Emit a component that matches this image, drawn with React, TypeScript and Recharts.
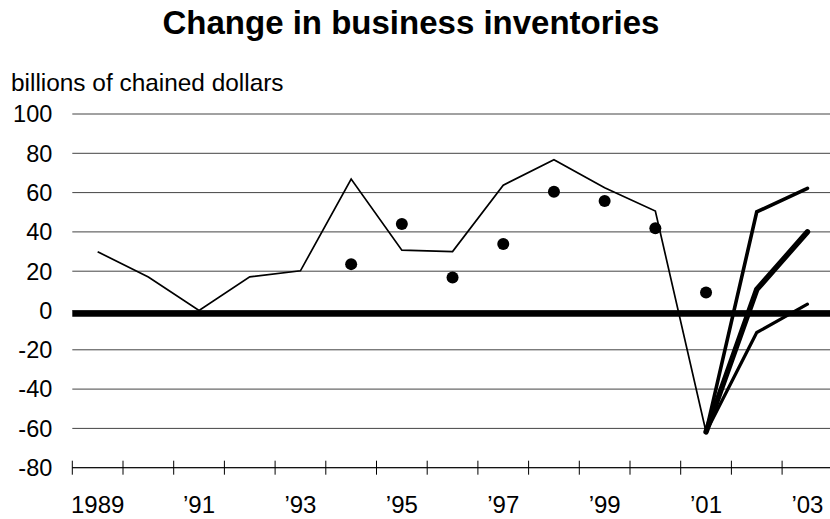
import React from "react";
import {
  ComposedChart,
  Line,
  Scatter,
  XAxis,
  YAxis,
  CartesianGrid,
  ReferenceArea,
} from "recharts";

const years = [1989, 1990, 1991, 1992, 1993, 1994, 1995, 1996, 1997, 1998, 1999, 2000, 2001, 2002, 2003];
const actual = [29.9, 17, 0, 17.1, 20.2, 66.9, 30.7, 30, 63.8, 76.7, 62.5, 50.6, -61.8, null, null];
const forecastHigh = [null, null, null, null, null, null, null, null, null, null, null, null, -61.8, 50.2, 62.2];
const forecastMid = [null, null, null, null, null, null, null, null, null, null, null, null, -61.8, 10.7, 40];
const forecastLow = [null, null, null, null, null, null, null, null, null, null, null, null, -61.8, -11.2, 3.2];

const surveyYears = [1994, 1995, 1996, 1997, 1998, 1999, 2000, 2001];
const surveyValues = [23.6, 44, 16.8, 33.8, 60.4, 55.7, 41.8, 9.2];

const yTicks = [-80, -60, -40, -20, 0, 20, 40, 60, 80, 100];
const labelYears = [1989, 1991, 1993, 1995, 1997, 1999, 2001, 2003];
const labelTexts = ["1989", "\u201991", "\u201993", "\u201995", "\u201997", "\u201999", "\u201901", "\u201903"];

const title = "Change in business inventories";
const unitLabel = "billions of chained dollars";

const data = years.map((year, i) => ({
  year,
  actual: actual[i],
  high: forecastHigh[i],
  mid: forecastMid[i],
  low: forecastLow[i],
}));

const surveyData = surveyYears.map((year, i) => ({ year, survey: surveyValues[i] }));

const boundaryTicks = [years[0] - 0.5, ...years.map((y) => y + 0.5)];
const xTicks = [...boundaryTicks, ...labelYears].sort((a, b) => a - b);

const FONT = "'Liberation Sans', Arial, sans-serif";

const XTick = (props: any) => {
  const { x, y, payload } = props;
  const v = payload.value as number;
  if (v % 1 !== 0) {
    return <line x1={x} x2={x} y1={y - 7} y2={y + 7} stroke="#000" strokeWidth={1} />;
  }
  const idx = labelYears.indexOf(v);
  if (idx < 0) return null;
  return (
    <text x={x} y={y + 45.5} textAnchor="middle" fontFamily={FONT} fontSize={24} fill="#000">
      {labelTexts[idx]}
    </text>
  );
};

export default function App() {
  return (
    <div
      style={{
        position: "fixed",
        left: 0,
        top: 0,
        width: 830,
        height: 519,
        overflow: "hidden",
        background: "#fff",
      }}
    >
      <ComposedChart
        width={843}
        height={519}
        data={data}
        margin={{ top: 114, right: 10.2, bottom: 11.3, left: 8.3 }}
      >
        <CartesianGrid horizontal={true} vertical={false} stroke="#444" strokeWidth={1} />
        <XAxis
          dataKey="year"
          type="number"
          domain={[years[0] - 0.5, years[years.length - 1] + 0.5]}
          ticks={xTicks}
          interval={0}
          allowDataOverflow
          tick={<XTick />}
          tickLine={false}
          tickSize={0}
          tickMargin={0}
          axisLine={{ stroke: "#000", strokeWidth: 1 }}
          height={40}
        />
        <YAxis
          type="number"
          domain={[-80, 100]}
          ticks={yTicks}
          interval={0}
          allowDataOverflow
          axisLine={false}
          tickLine={false}
          tickSize={0}
          tickMargin={20}
          width={64}
          tick={{ fontFamily: FONT, fontSize: 23.5, fill: "#000" }}
        />
        <ReferenceArea y1={-3.2} y2={0} fill="#000" fillOpacity={1} stroke="none" ifOverflow="visible" />
        <Line
          dataKey="actual"
          stroke="#000"
          strokeWidth={1.7}
          dot={false}
          isAnimationActive={false}
          connectNulls={false}
        />
        <Line
          dataKey="high"
          stroke="#000"
          strokeWidth={3.6}
          strokeLinecap="round"
          dot={false}
          isAnimationActive={false}
        />
        <Line
          dataKey="mid"
          stroke="#000"
          strokeWidth={5.5}
          strokeLinecap="round"
          dot={false}
          isAnimationActive={false}
        />
        <Line
          dataKey="low"
          stroke="#000"
          strokeWidth={3.2}
          strokeLinecap="round"
          dot={false}
          isAnimationActive={false}
        />
        <Scatter
          data={surveyData}
          dataKey="survey"
          fill="#000"
          shape={(p: any) => <circle cx={p.cx} cy={p.cy} r={6} fill="#000" />}
          isAnimationActive={false}
        />
      </ComposedChart>
      <svg
        width={830}
        height={519}
        style={{ position: "absolute", left: 0, top: 0, pointerEvents: "none" }}
      >
        <text x={411} y={34.3} textAnchor="middle" fontFamily={FONT} fontWeight="bold" fontSize={33} fill="#000">
          {title}
        </text>
        <text x={11} y={90.5} textAnchor="start" fontFamily={FONT} fontSize={24.4} fill="#000">
          {unitLabel}
        </text>
      </svg>
    </div>
  );
}
